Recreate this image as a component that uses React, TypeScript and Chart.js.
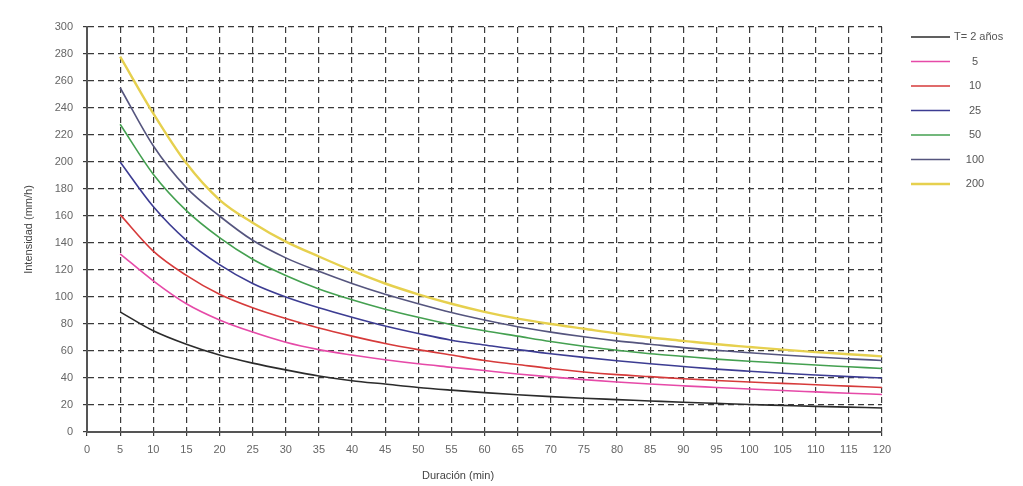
import React, { useEffect, useRef } from "react";
import { Chart, registerables } from "chart.js";

Chart.register(...registerables);

const durations = [5, 10, 15, 20, 25, 30, 35, 40, 45, 50, 55, 60, 65, 70, 75, 80, 85, 90, 95, 100, 105, 110, 115, 120];
const t2 = [89, 75, 65, 57, 51, 46, 41.5, 38, 35.5, 33, 31, 29.2, 27.6, 26.2, 25, 24, 23, 22, 21.2, 20.4, 19.7, 19, 18.4, 17.8];
const t5 = [132, 112, 95, 83, 74, 66.5, 61, 57, 53.5, 50.5, 48, 45.5, 43, 40.8, 38.8, 37, 35.5, 34.2, 33, 31.8, 30.7, 29.7, 28.7, 27.8];
const t10 = [161, 134, 116, 102, 92, 84, 77, 71, 65.5, 61, 57, 53, 50, 47, 44.5, 42.5, 41, 39.5, 38.2, 37, 36, 35, 34, 33];
const t25 = [200, 167, 142, 124, 110, 100, 92, 85, 78.5, 73, 68, 64.5, 61, 58, 55.3, 52.8, 50.5, 48.5, 46.6, 45, 43.5, 42.2, 41, 40];
const t50 = [228, 191, 164, 144, 128, 116, 106, 98, 91, 85, 79.5, 75, 71, 67, 63.5, 60.5, 58, 56, 54, 52.4, 51, 49.6, 48.3, 47];
const t100 = [255, 212, 181, 160, 142, 129, 119, 110, 102, 95, 88.5, 83, 78, 74, 70.5, 67.5, 65, 62.5, 60.5, 58.7, 57, 55.5, 54.2, 53];
const t200 = [278, 236, 199, 172, 155, 141, 130, 119.5, 110, 102, 95, 89, 84, 80, 76.5, 73, 70, 67.5, 65, 63, 61, 59.2, 57.6, 56];

const seriesLabels = ["T= 2 años", "5", "10", "25", "50", "100", "200"];
const seriesValues = [t2, t5, t10, t25, t50, t100, t200];
const seriesColors = ["#2b2b2b", "#e64aa8", "#d63a3a", "#3c3c92", "#44a050", "#55557e", "#e6d04e"];
const seriesWidths = [1.6, 1.6, 1.6, 1.6, 1.6, 1.6, 2.4];

const xTitle = "Duración (min)";
const yTitle = "Intensidad (mm/h)";
const FONT = "'Liberation Sans', Arial, sans-serif";

const legendPlugin = {
  id: "customLegend",
  afterDraw(chart: any) {
    const ctx = chart.ctx;
    ctx.save();
    ctx.font = `11px ${FONT}`;
    ctx.textBaseline = "middle";
    chart.data.datasets.forEach((ds: any, i: number) => {
      const y = 29 + i * 24.5;
      ctx.strokeStyle = ds.borderColor;
      ctx.lineWidth = ds.borderWidth;
      ctx.beginPath();
      ctx.moveTo(903, y);
      ctx.lineTo(942, y);
      ctx.stroke();
      ctx.fillStyle = "#555";
      if (i === 0) {
        ctx.textAlign = "left";
        ctx.fillText(ds.label, 946, y);
      } else {
        ctx.textAlign = "center";
        ctx.fillText(ds.label, 967, y);
      }
    });
    // x axis title
    ctx.fillStyle = "#444";
    ctx.textAlign = "center";
    ctx.fillText(xTitle, 450, 468);
    ctx.restore();
  },
};

export default function App() {
  const ref = useRef<HTMLCanvasElement | null>(null);
  useEffect(() => {
    if (!ref.current) return;
    const gridOpts: any = { color: "#3a3a3a", lineWidth: 1.2, tickLength: 4, tickColor: "#3a3a3a" };
    const chart = new Chart(ref.current, {
      type: "line",
      data: {
        datasets: seriesLabels.map((label, i) => ({
          label,
          data: durations.map((d, j) => ({ x: d, y: seriesValues[i][j] })),
          borderColor: seriesColors[i],
          backgroundColor: seriesColors[i],
          borderWidth: seriesWidths[i],
          pointRadius: 0,
          cubicInterpolationMode: "monotone" as const,
          fill: false,
        })),
      },
      options: {
        animation: false,
        responsive: true,
        maintainAspectRatio: false,
        layout: { padding: { top: 19, right: 133, left: 0, bottom: 0 } },
        plugins: {
          legend: { display: false },
          tooltip: { enabled: false },
        },
        scales: {
          x: {
            type: "linear",
            min: 0,
            max: 120,
            afterFit: (s: any) => { s.height = 54; },
            ticks: { stepSize: 5, color: "#666", font: { family: FONT, size: 11 }, padding: 7, maxRotation: 0, autoSkip: false },
            grid: gridOpts,
            border: { display: true, color: "#555", width: 2, dash: [6, 4] } as any,
          },
          y: {
            min: 0,
            max: 300,
            afterFit: (s: any) => { s.width = 79; },
            ticks: { stepSize: 20, color: "#666", font: { family: FONT, size: 11 }, padding: 10 },
            grid: gridOpts,
            border: { display: true, color: "#555", width: 2, dash: [6, 4] } as any,
            title: { display: true, text: yTitle, color: "#444", font: { family: FONT, size: 11 }, padding: { top: 14, bottom: 0 } },
          },
        },
      },
      plugins: [legendPlugin],
    });
    return () => chart.destroy();
  }, []);
  return (
    <div style={{ position: "relative", width: 1007, height: 478 }}>
      <canvas ref={ref} />
    </div>
  );
}
